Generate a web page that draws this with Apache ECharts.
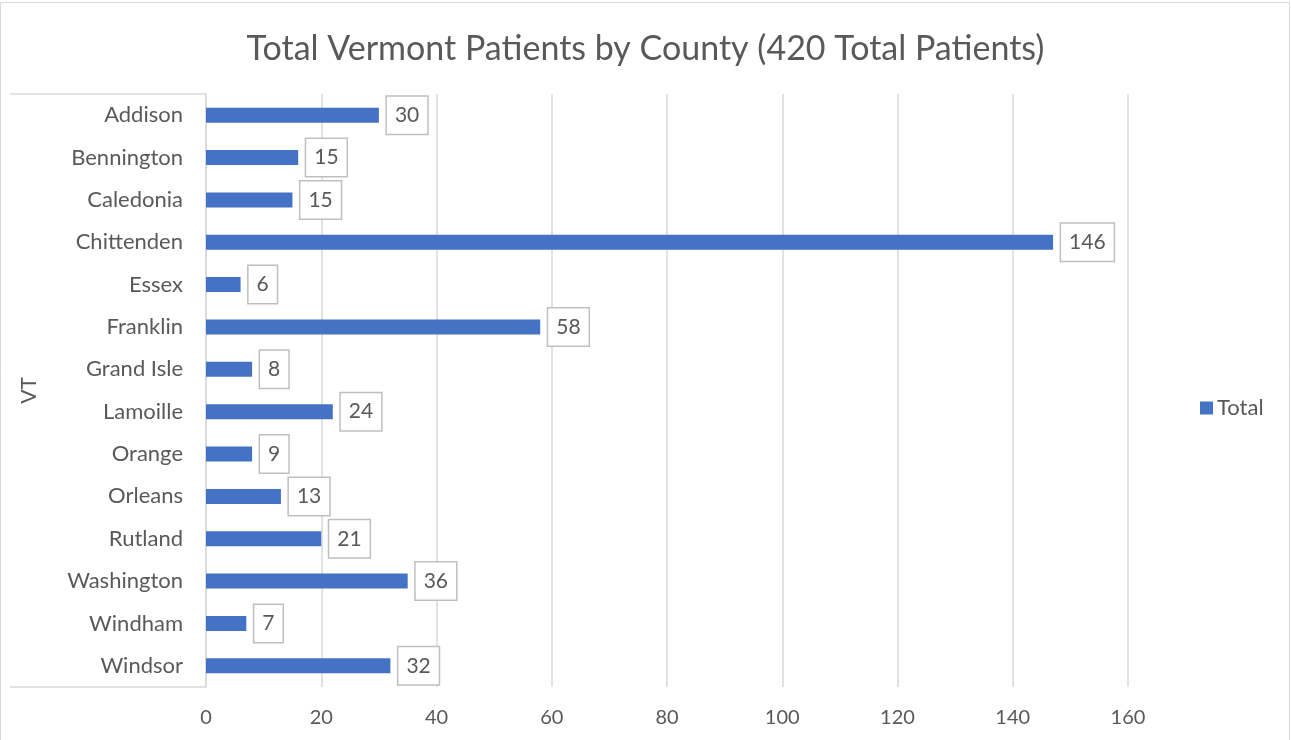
<!DOCTYPE html>
<html>
<head>
<meta charset="utf-8">
<script src="https://cdn.jsdelivr.net/npm/echarts@6/dist/echarts.min.js"></script>
<style>
  html, body { margin: 0; padding: 0; background: #fff; }
  #chart { width: 1291px; height: 740px; }
</style>
</head>
<body>
<div id="chart"></div>
<script>
var counties = ['Addison', 'Bennington', 'Caledonia', 'Chittenden', 'Essex', 'Franklin', 'Grand Isle',
    'Lamoille', 'Orange', 'Orleans', 'Rutland', 'Washington', 'Windham', 'Windsor']
// bar lengths as drawn in the picture
var barValues = [30, 16, 15, 147, 6, 58, 8, 22, 8, 13, 20, 35, 7, 32]
// numbers printed in the data label boxes
var labelValues = [30, 15, 15, 146, 6, 58, 8, 24, 9, 13, 21, 36, 7, 32]
var xTicks = [0, 20, 40, 60, 80, 100, 120, 140, 160]

var font = 'Lato'
var textColor = '#595959'
var lineColor = '#d9d9d9'

var gridLeft = 206, gridTop = 94, gridRight = 163, gridBottom = 53

var chart = echarts.init(document.getElementById('chart'))
var option = {
    backgroundColor: '#fff',
    animation: false,
    textStyle: { fontFamily: font },
    title: {
        text: 'Total Vermont Patients by County (420 Total Patients)',
        left: 'center',
        top: 27,
        textStyle: { fontFamily: font, fontSize: 34, fontWeight: 'normal', color: textColor }
    },
    legend: {
        data: ['Total'],
        orient: 'vertical',
        left: 1195,
        top: 392,
        itemWidth: 13,
        itemHeight: 13,
        itemGap: 6,
        icon: 'rect',
        textStyle: { fontFamily: font, fontSize: 22, color: textColor, padding: [0, 0, 0, -1] }
    },
    grid: { left: gridLeft, top: gridTop, right: gridRight, bottom: gridBottom, containLabel: false },
    xAxis: {
        type: 'value',
        min: xTicks[0],
        max: xTicks[xTicks.length - 1],
        interval: 20,
        axisLine: { show: false },
        axisTick: { show: false },
        axisLabel: { fontFamily: font, fontSize: 20, color: textColor, margin: 21 },
        splitLine: { show: true, lineStyle: { color: lineColor, width: 1.5 } }
    },
    yAxis: {
        type: 'category',
        data: counties,
        inverse: true,
        name: 'VT',
        nameLocation: 'middle',
        nameRotate: 90,
        nameGap: 166,
        nameTextStyle: { fontFamily: font, fontSize: 21, color: textColor },
        axisLine: { show: true, lineStyle: { color: lineColor, width: 1.5 } },
        axisTick: { show: false },
        axisLabel: { fontFamily: font, fontSize: 22, color: textColor, margin: 23 },
        splitLine: { show: false }
    },
    series: [{
        name: 'Total',
        type: 'bar',
        data: barValues,
        barWidth: 15,
        itemStyle: { color: '#4472c4' },
        label: {
            show: true,
            position: 'right',
            distance: 8,
            formatter: function (p) { return labelValues[p.dataIndex] },
            fontFamily: font,
            fontSize: 21,
            color: textColor,
            backgroundColor: '#fff',
            borderColor: '#bfbfbf',
            borderWidth: 1.5,
            padding: [8, 8, 7, 8],
            lineHeight: 22
        }
    }],
    graphic: [
        { type: 'rect', shape: { x: 0.5, y: 2.5, width: 1289, height: 740 }, style: { fill: 'none', stroke: lineColor, lineWidth: 1 }, silent: true },
        { type: 'line', shape: { x1: 10, y1: gridTop, x2: gridLeft, y2: gridTop }, style: { stroke: lineColor, lineWidth: 1.5 }, silent: true },
        { type: 'line', shape: { x1: 10, y1: 740 - gridBottom, x2: gridLeft, y2: 740 - gridBottom }, style: { stroke: lineColor, lineWidth: 1.5 }, silent: true }
    ]
}
chart.setOption(option)
</script>
</body>
</html>
